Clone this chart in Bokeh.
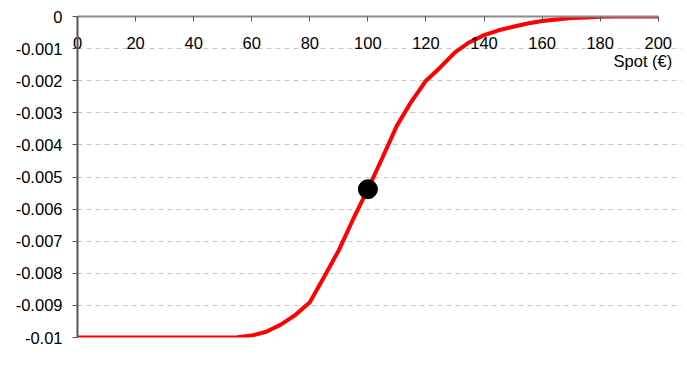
from bokeh.plotting import figure
from bokeh.models import Range1d, FixedTicker, Label
from bokeh.embed import file_html
from bokeh.resources import INLINE

spot = [0, 5, 10, 15, 20, 25, 30, 35, 40, 45, 50, 55, 60, 65, 70, 75, 80, 85, 90, 95,
        100, 105, 110, 115, 120, 125, 130, 135, 140, 145, 150, 155, 160, 165, 170, 175,
        180, 185, 190, 195, 200]
value = [-0.01, -0.01, -0.01, -0.01, -0.01, -0.01, -0.01, -0.01, -0.01, -0.01, -0.01, -0.00999,
         -0.00994, -0.00982, -0.0096, -0.0093, -0.0089, -0.0081, -0.00728, -0.0063,
         -0.00538, -0.0044, -0.0034, -0.00265, -0.0020, -0.00158, -0.00112, -0.0008,
         -0.00058, -0.00043, -0.00032, -0.00022, -0.00014, -0.00009, -0.00005, -0.00003,
         -0.00001, 0.0, 0.0, 0.0, 0.0]
point_x = [100]
point_y = [-0.00538]
x_ticks = [0, 20, 40, 60, 80, 100, 120, 140, 160, 180, 200]
y_ticks = [0, -0.001, -0.002, -0.003, -0.004, -0.005, -0.006, -0.007, -0.008, -0.009, -0.01]
y_tick_labels = ["0", "-0.001", "-0.002", "-0.003", "-0.004", "-0.005", "-0.006",
                 "-0.007", "-0.008", "-0.009", "-0.01"]
x_title = "Spot (€)"

FONT = "Liberation Sans"
FS = "16.5px"

# frame extends a little past x=200 so the axis title is not clipped;
# axis line and grid are bounded to 0..200
p = figure(width=685, height=368, output_backend="svg", toolbar_location=None,
           x_axis_location="above",
           x_range=Range1d(0, 208), y_range=Range1d(-0.01, 0),
           min_border_left=77, min_border_right=4, min_border_top=16, min_border_bottom=31)
p.outline_line_color = None
p.background_fill_color = "white"
p.border_fill_color = "white"

xa = p.xaxis[0]
xa.ticker = FixedTicker(ticks=x_ticks)
xa.bounds = (0, 200)
xa.axis_line_color = "#8c8c8c"
xa.axis_line_width = 2
xa.major_tick_line_color = "#555555"
xa.major_tick_in = 5
xa.major_tick_out = 0
xa.minor_tick_line_color = None
xa.major_label_text_font = FONT
xa.major_label_text_font_size = FS
xa.major_label_text_color = "black"
xa.major_label_standoff = -32

ya = p.yaxis[0]
ya.ticker = FixedTicker(ticks=y_ticks)
ya.major_label_overrides = {t: s for t, s in zip(y_ticks, y_tick_labels)}
ya.axis_line_color = "#555555"
ya.axis_line_width = 2
ya.major_tick_line_color = "#555555"
ya.major_tick_in = 0
ya.major_tick_out = 5
ya.minor_tick_line_color = None
ya.major_label_text_font = FONT
ya.major_label_text_font_size = FS
ya.major_label_text_color = "black"
ya.major_label_standoff = 10

p.xgrid.grid_line_color = None
p.ygrid.ticker = FixedTicker(ticks=y_ticks[1:])
p.ygrid.bounds = (0, 200)
p.ygrid.grid_line_color = "#c8c8c8"
p.ygrid.grid_line_dash = "5 4"
p.ygrid.grid_line_width = 1

p.line(spot, value, line_color="#ff0000", line_width=4)
p.scatter(point_x, point_y, size=19, fill_color="black", line_color="black")

lab = Label(x=200, y=0, x_units="data", y_units="data", text=x_title,
            x_offset=14, y_offset=-44, text_align="right", text_baseline="middle",
            text_font=FONT, text_font_size=FS, text_color="black")
p.add_layout(lab)

open("out.html", "w").write(file_html(p, INLINE))
